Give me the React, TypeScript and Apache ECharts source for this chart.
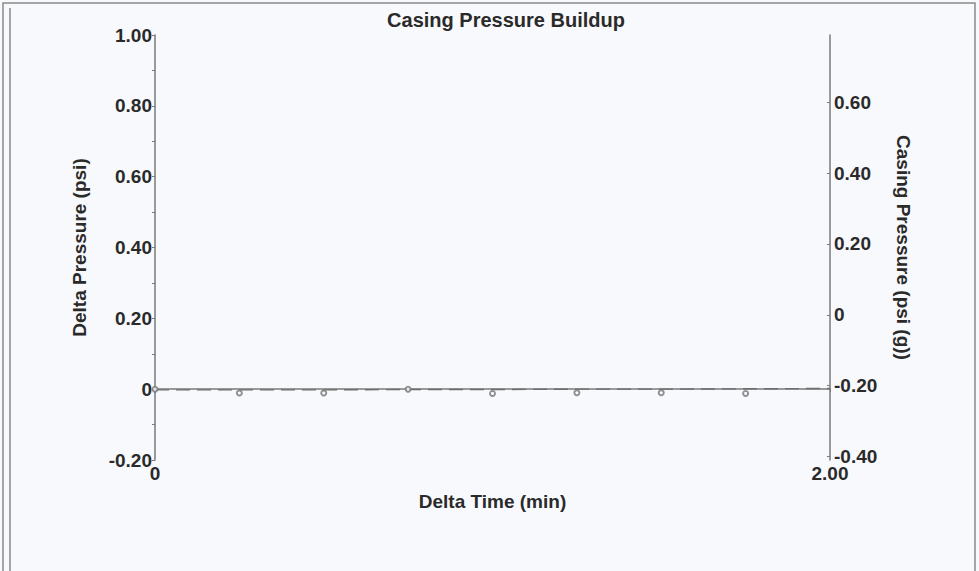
import React, { useEffect, useRef } from "react";
import * as echarts from "echarts";

const titleText = "Casing Pressure Buildup";
const xAxisName = "Delta Time (min)";
const leftAxisName = "Delta Pressure (psi)";
const rightAxisName = "Casing Pressure (psi (g))";

const times = [0, 0.25, 0.5, 0.75, 1.0, 1.25, 1.5, 1.75];
const deltaPressure = [0, -0.011, -0.011, 0, -0.012, -0.01, -0.01, -0.012];

const casingTimes = [0, 0.25, 0.5, 0.75, 1.0, 1.25, 1.5, 1.75, 2.0];
const casingPressure = [-0.212, -0.212, -0.212, -0.211, -0.211, -0.21, -0.21, -0.209, -0.208];

const rightTickValues = [-0.4, -0.2, 0, 0.2, 0.4, 0.6];

const fmt = (v: number) => (Math.abs(v) < 1e-9 ? "0" : v.toFixed(2));

export default function App() {
  const ref = useRef<HTMLDivElement>(null);
  useEffect(() => {
    if (!ref.current) return;
    const chart = echarts.init(ref.current, null, { renderer: "svg" });
    const font = "'Liberation Sans', Arial, sans-serif";
    const axisColor = "#7a7a7a";
    const textColor = "#2a2a2a";
    const fs = 19;
    chart.setOption({
      animation: false,
      backgroundColor: "#f8f9fc",
      title: {
        text: titleText,
        left: 501,
        top: 5,
        textAlign: "center",
        textStyle: { fontFamily: font, fontSize: 20, fontWeight: "bold", color: textColor },
      },
      grid: { left: 155, right: 149, top: 35, bottom: 111, containLabel: false },
      xAxis: {
        type: "value",
        min: 0,
        max: 2,
        interval: 2,
        name: xAxisName,
        nameLocation: "middle",
        nameGap: 32,
        nameTextStyle: { fontFamily: font, fontSize: fs, fontWeight: "bold", color: textColor },
        axisLine: { show: true, lineStyle: { color: axisColor, width: 1.5 } },
        axisTick: { show: true, length: 3, lineStyle: { color: axisColor } },
        splitLine: { show: false },
        axisLabel: {
          formatter: fmt,
          margin: 4,
          fontFamily: font,
          fontSize: fs,
          fontWeight: "bold",
          color: textColor,
        },
      },
      yAxis: [
        {
          type: "value",
          position: "left",
          min: -0.2,
          max: 1.0,
          interval: 0.2,
          name: leftAxisName,
          nameLocation: "middle",
          nameGap: 66,
          nameRotate: 90,
          nameTextStyle: { fontFamily: font, fontSize: fs, fontWeight: "bold", color: textColor },
          axisLine: { show: true, lineStyle: { color: axisColor, width: 1.5 } },
          axisTick: { show: true, length: 3, lineStyle: { color: axisColor } },
          minorTick: { show: true, splitNumber: 2, length: 3, lineStyle: { color: axisColor } },
          splitLine: { show: false },
          axisLabel: {
            formatter: fmt,
            margin: 3,
            fontFamily: font,
            fontSize: fs,
            fontWeight: "bold",
            color: textColor,
          },
        },
        {
          type: "value",
          position: "right",
          min: -0.41,
          max: 0.79,
          name: rightAxisName,
          nameLocation: "middle",
          nameGap: 64,
          nameRotate: -90,
          nameTextStyle: { fontFamily: font, fontSize: fs, fontWeight: "bold", color: textColor },
          axisLine: { show: true, lineStyle: { color: axisColor, width: 1.5 } },
          axisTick: {
            show: true,
            length: 3,
            inside: true,
            customValues: rightTickValues,
            lineStyle: { color: axisColor },
          },
          splitLine: { show: false },
          axisLabel: {
            customValues: rightTickValues,
            formatter: fmt,
            margin: 4,
            fontFamily: font,
            fontSize: fs,
            fontWeight: "bold",
            color: textColor,
          },
        },
      ],
      series: [
        {
          name: "Casing Pressure",
          type: "line",
          yAxisIndex: 1,
          data: casingTimes.map((t, i) => [t, casingPressure[i]]),
          showSymbol: false,
          lineStyle: { color: "#6e6e6e", width: 1.4, type: [14, 7] },
        },
        {
          name: "Delta Pressure",
          type: "scatter",
          yAxisIndex: 0,
          data: times.map((t, i) => [t, deltaPressure[i]]),
          symbol: "emptyCircle",
          symbolSize: 5,
          itemStyle: { color: "#777", borderColor: "#777", borderWidth: 1.1 },
          z: 5,
        },
      ],
      graphic: [
        {
          type: "rect",
          shape: { x: 3, y: 3, width: 972, height: 600 },
          style: { fill: "none", stroke: "#8a8a8a", lineWidth: 1.5 },
          silent: true,
        },
        {
          type: "line",
          shape: { x1: 10, y1: 8, x2: 10, y2: 571 },
          style: { stroke: "#8a8a8a", lineWidth: 1.5 },
          silent: true,
        },
      ],
    });
    return () => chart.dispose();
  }, []);
  return (
    <div
      ref={ref}
      style={{ position: "fixed", left: 0, top: 0, width: 979, height: 571 }}
    />
  );
}
